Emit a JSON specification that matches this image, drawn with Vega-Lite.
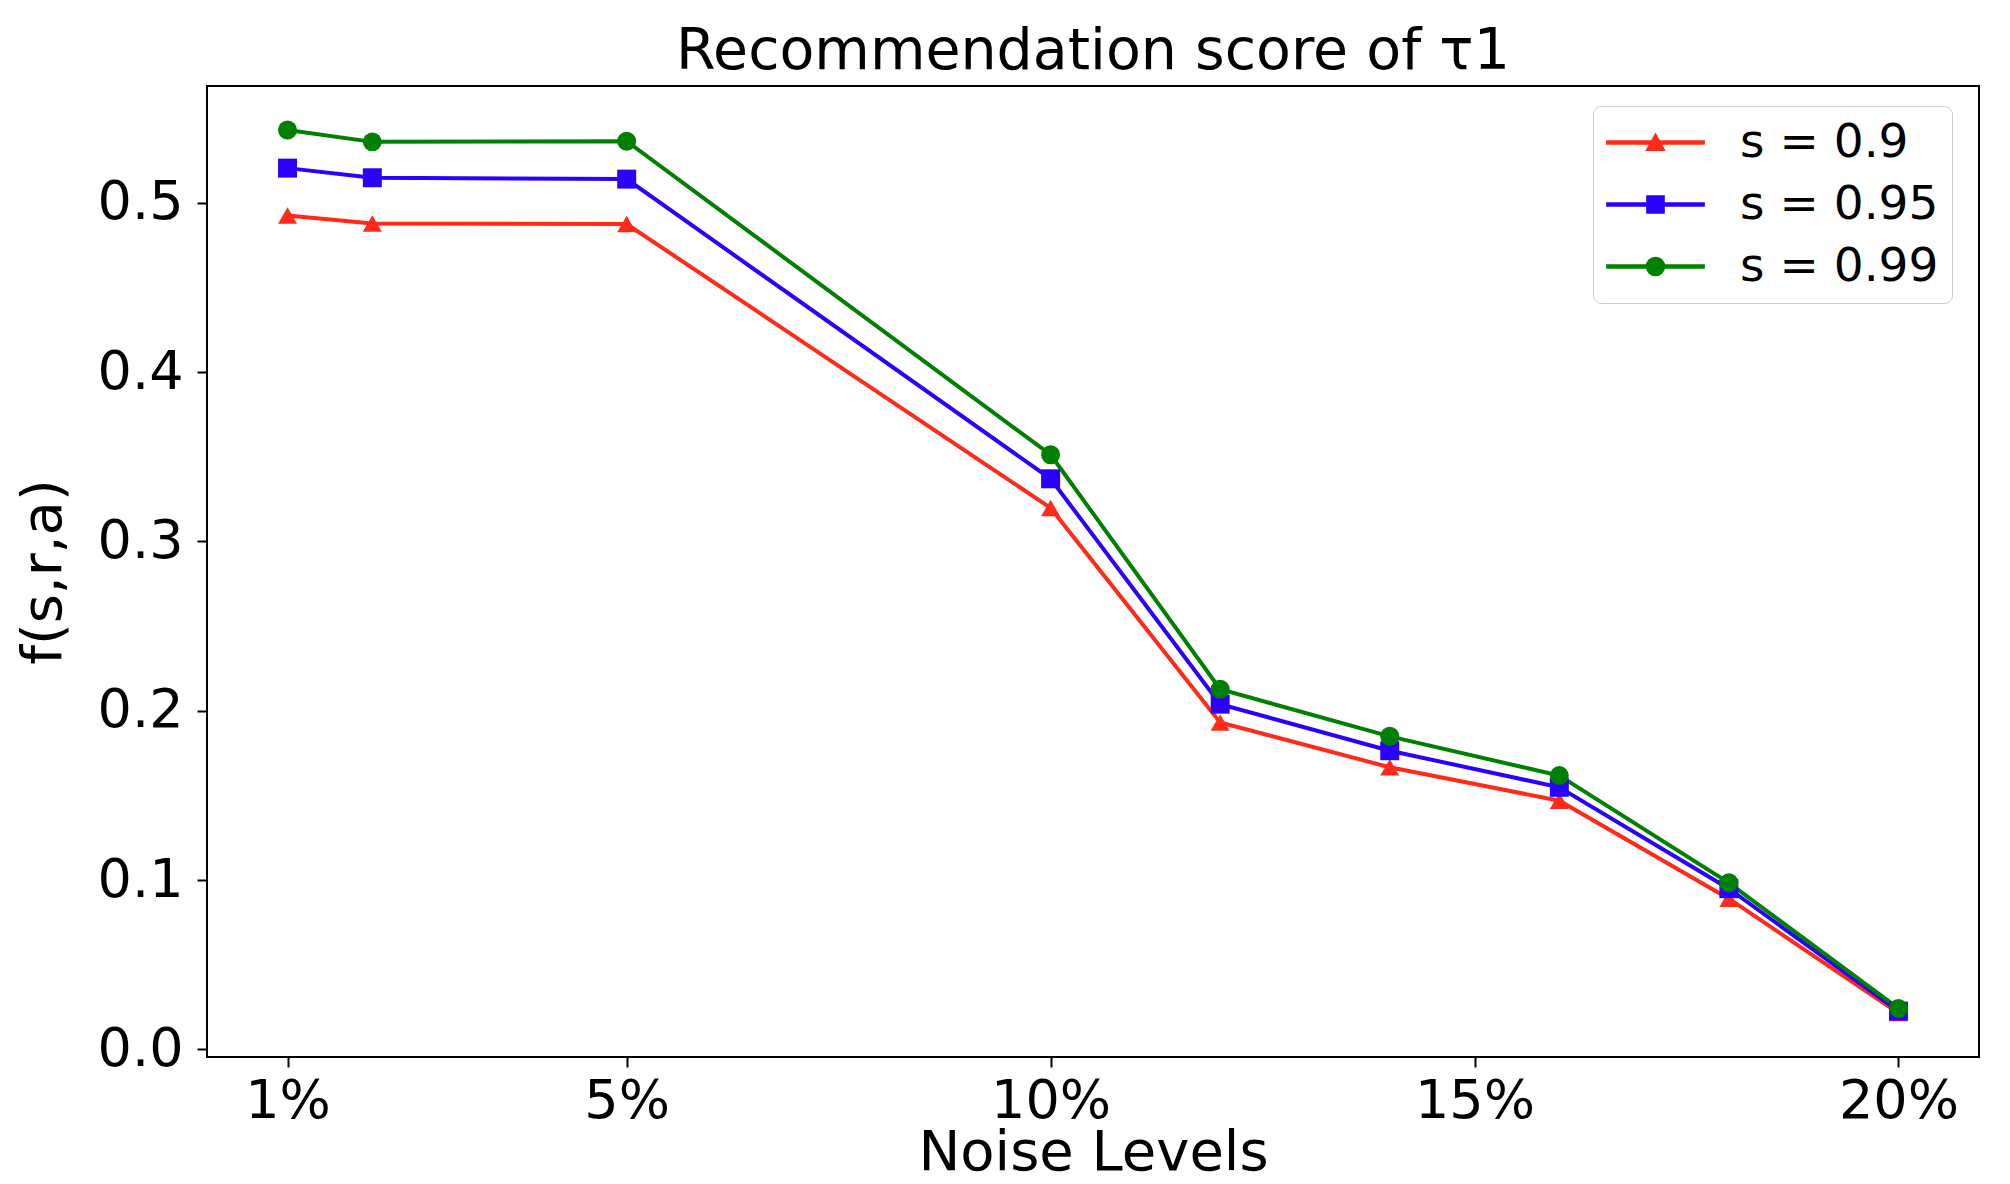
{
  "$schema": "https://vega.github.io/schema/vega-lite/v6.json",
  "width": 1772,
  "height": 971,
  "autosize": {"type": "none"},
  "padding": {"left": 207, "top": 86, "right": 31, "bottom": 127},
  "background": "white",
  "title": {
    "text": "Recommendation score of τ1",
    "font": "DejaVu Sans",
    "fontSize": 57,
    "fontWeight": "normal",
    "color": "black",
    "anchor": "middle",
    "baseline": "alphabetic",
    "offset": 16,
    "dy": 56
  },
  "data": {
    "values": [
      {"noise": 1, "series": "s = 0.9", "score": 0.4925},
      {"noise": 2, "series": "s = 0.9", "score": 0.4878},
      {"noise": 5, "series": "s = 0.9", "score": 0.4875},
      {"noise": 10, "series": "s = 0.9", "score": 0.3198},
      {"noise": 12, "series": "s = 0.9", "score": 0.1931},
      {"noise": 14, "series": "s = 0.9", "score": 0.1666},
      {"noise": 16, "series": "s = 0.9", "score": 0.1469},
      {"noise": 18, "series": "s = 0.9", "score": 0.089},
      {"noise": 20, "series": "s = 0.9", "score": 0.0215},
      {"noise": 1, "series": "s = 0.95", "score": 0.5205},
      {"noise": 2, "series": "s = 0.95", "score": 0.5148},
      {"noise": 5, "series": "s = 0.95", "score": 0.514},
      {"noise": 10, "series": "s = 0.95", "score": 0.337},
      {"noise": 12, "series": "s = 0.95", "score": 0.2039},
      {"noise": 14, "series": "s = 0.95", "score": 0.1764},
      {"noise": 16, "series": "s = 0.95", "score": 0.1548},
      {"noise": 18, "series": "s = 0.95", "score": 0.0949},
      {"noise": 20, "series": "s = 0.95", "score": 0.0226},
      {"noise": 1, "series": "s = 0.99", "score": 0.543},
      {"noise": 2, "series": "s = 0.99", "score": 0.536},
      {"noise": 5, "series": "s = 0.99", "score": 0.5364},
      {"noise": 10, "series": "s = 0.99", "score": 0.3512},
      {"noise": 12, "series": "s = 0.99", "score": 0.2127},
      {"noise": 14, "series": "s = 0.99", "score": 0.1849},
      {"noise": 16, "series": "s = 0.99", "score": 0.1617},
      {"noise": 18, "series": "s = 0.99", "score": 0.0984},
      {"noise": 20, "series": "s = 0.99", "score": 0.0242}
    ]
  },
  "config": {
    "view": {"stroke": "black", "strokeWidth": 2},
    "axis": {
      "grid": false,
      "domain": false,
      "ticks": true,
      "tickSize": 10,
      "tickWidth": 2,
      "tickColor": "black",
      "labelFont": "DejaVu Sans",
      "labelFontSize": 54,
      "labelColor": "black",
      "titleFont": "DejaVu Sans",
      "titleFontSize": 56,
      "titleFontWeight": "normal",
      "titleColor": "black"
    },
    "legend": {
      "title": null,
      "orient": "none",
      "legendX": 1386,
      "legendY": 20,
      "labelFont": "DejaVu Sans",
      "labelFontSize": 47,
      "labelColor": "black",
      "labelLimit": 600,
      "labelOffset": 61,
      "symbolOffset": 26,
      "rowPadding": 14,
      "padding": 13,
      "cornerRadius": 8,
      "strokeColor": "#cccccc",
      "fillColor": "rgba(255,255,255,0.8)",
      "symbolSize": 324,
      "symbolOpacity": 1
    }
  },
  "encoding": {
    "x": {
      "field": "noise",
      "type": "quantitative",
      "scale": {"domain": [0.05, 20.95], "nice": false, "zero": false},
      "axis": {
        "title": "Noise Levels",
        "values": [1, 5, 10, 15, 20],
        "labelExpr": "datum.value + '%'",
        "labelPadding": 7,
        "titlePadding": -3
      }
    },
    "y": {
      "field": "score",
      "type": "quantitative",
      "scale": {"domain": [-0.0045, 0.569], "nice": false, "zero": false},
      "axis": {
        "title": "f(s,r,a)",
        "values": [0, 0.1, 0.2, 0.3, 0.4, 0.5],
        "format": ".1f",
        "labelPadding": 14,
        "titlePadding": 25
      }
    },
    "color": {
      "field": "series",
      "type": "nominal",
      "title": null,
      "scale": {
        "domain": ["s = 0.9", "s = 0.95", "s = 0.99"],
        "range": ["#ff2a1a", "#2a00ff", "#008000"]
      }
    }
  },
  "layer": [
    {
      "mark": {"type": "line", "strokeWidth": 4},
      "encoding": {}
    },
    {
      "mark": {"type": "point", "filled": true, "size": 360, "opacity": 1},
      "encoding": {
        "shape": {
          "condition": [
            {"test": "datum.series == 's = 0.9'", "value": "triangle-up"},
            {"test": "datum.series == 's = 0.95'", "value": "square"}
          ],
          "value": "circle"
        }
      }
    },
    {
      "transform": [{"filter": "false"}],
      "mark": {"type": "point", "filled": true, "size": 324, "opacity": 1},
      "encoding": {
        "shape": {
          "field": "series",
          "type": "nominal",
          "title": null,
          "scale": {
            "domain": ["s = 0.9", "s = 0.95", "s = 0.99"],
            "range": [
              "M-5.4,-0.18H5.4V0.18H-5.4ZM-1,0.85L0,-0.95L1,0.85Z",
              "M-5.4,-0.18H5.4V0.18H-5.4ZM-0.95,-0.95H0.95V0.95H-0.95Z",
              "M-5.4,-0.18H5.4V0.18H-5.4ZM-1,0A1,1,0,1,1,1,0A1,1,0,1,1,-1,0Z"
            ]
          }
        }
      }
    }
  ]
}
